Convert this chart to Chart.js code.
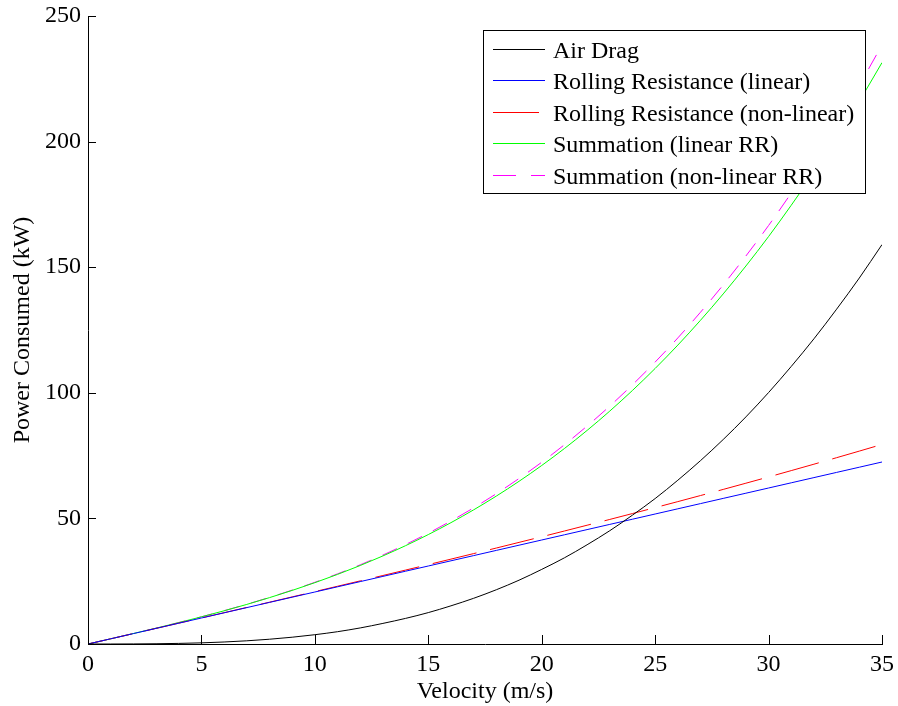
<!DOCTYPE html>
<html>
<head>
<meta charset="utf-8">
<script src="https://cdn.jsdelivr.net/npm/chart.js@4.4.1/dist/chart.umd.min.js"></script>
<style>
  html, body { margin: 0; padding: 0; background: #fff; }
  #wrap { width: 898px; height: 706px; position: relative; }
</style>
</head>
<body>
<div id="wrap"><canvas id="c" width="898" height="706"></canvas></div>
<script>
// Velocity (m/s)
const velocity = [0,1,2,3,4,5,6,7,8,9,10,11,12,13,14,15,16,17,18,19,20,21,22,23,24,25,26,27,28,29,30,31,32,33,34,35];
// Power consumed (kW)
const airDrag = [0,0.0,0.03,0.1,0.24,0.46,0.8,1.27,1.9,2.7,3.7,4.9,6.4,8.2,10.2,12.5,15.2,18.2,21.6,25.4,29.7,34.3,39.5,45.1,51.3,57.9,65.2,73.0,81.4,90.4,100.1,110.5,121.5,133.3,145.7,159.0];
const rrLinear = [0,2.07,4.14,6.21,8.28,10.35,12.42,14.49,16.56,18.63,20.7,22.77,24.84,26.91,28.98,31.05,33.12,35.19,37.26,39.33,41.4,43.47,45.54,47.61,49.68,51.75,53.82,55.89,57.96,60.03,62.1,64.17,66.24,68.31,70.38,72.45];
const rrNonLinear = [0,2.07,4.14,6.21,8.29,10.37,12.46,14.55,16.64,18.75,20.86,22.99,25.12,27.27,29.43,31.6,33.79,35.99,38.21,40.45,42.7,44.98,47.28,49.59,51.93,54.3,56.68,59.1,61.54,64.01,66.5,69.03,71.58,74.17,76.79,79.44];
const sumLinear = [0,2.07,4.17,6.31,8.52,10.81,13.22,15.76,18.46,21.33,24.41,27.71,31.25,35.06,39.15,43.56,48.31,53.41,58.89,64.76,71.06,77.81,85.02,92.72,100.94,109.69,118.99,128.87,139.36,150.47,162.2,174.67,187.74,201.61,216.08,231.45];
const sumNonLinear = [0,2.07,4.17,6.31,8.53,10.83,13.26,15.82,18.54,21.45,24.57,27.93,31.53,35.42,39.6,44.11,48.98,54.21,59.84,65.88,72.36,79.32,86.76,94.7,103.19,112.24,121.85,132.08,142.94,154.45,166.6,179.53,193.08,207.47,222.49,238.44];
const seriesNames = ['Air Drag','Rolling Resistance (linear)','Rolling Resistance (non-linear)','Summation (linear RR)','Summation (non-linear RR)'];
const xTicks = [0,5,10,15,20,25,30,35];
const yTicks = [0,50,100,150,200,250];

const FONT = 'Liberation Serif, "Times New Roman", serif';
const pts = arr => velocity.map((v, i) => ({x: v, y: arr[i]}));

const styles = [
  {color: '#000000', dash: []},
  {color: '#0000ff', dash: []},
  {color: '#ff0000', dash: [45, 14]},
  {color: '#00ff00', dash: []},
  {color: '#ff00ff', dash: [16, 12]}
];
const values = [airDrag, rrLinear, rrNonLinear, sumLinear, sumNonLinear];

const datasets = values.map((arr, i) => ({
  label: seriesNames[i],
  data: pts(arr),
  borderColor: styles[i].color,
  backgroundColor: styles[i].color,
  borderWidth: 1,
  borderDash: styles[i].dash,
  pointRadius: 0,
  fill: false,
  cubicInterpolationMode: 'monotone'
}));

const innerTicks = {
  id: 'innerTicks',
  afterDraw(chart) {
    const ctx = chart.ctx;
    const xs = chart.scales.x, ys = chart.scales.y;
    const ca = chart.chartArea;
    ctx.save();
    ctx.strokeStyle = '#000';
    ctx.lineWidth = 1;
    ctx.beginPath();
    xTicks.forEach(t => {
      const px = Math.round(xs.getPixelForValue(t)) + 0.5;
      ctx.moveTo(px, ca.bottom);
      ctx.lineTo(px, ca.bottom - 9);
    });
    yTicks.forEach(t => {
      const py = Math.round(ys.getPixelForValue(t)) + 0.5;
      ctx.moveTo(ca.left, py);
      ctx.lineTo(ca.left + 8, py);
    });
    ctx.stroke();

    // legend box
    const bx = 483.5, by = 30.5, bw = 382, bh = 163;
    ctx.fillStyle = '#fff';
    ctx.fillRect(bx, by, bw, bh);
    ctx.strokeStyle = '#000';
    ctx.strokeRect(bx, by, bw, bh);
    ctx.font = '24px ' + FONT;
    ctx.textBaseline = 'alphabetic';
    ctx.textAlign = 'left';
    const rows = [48.5, 80, 111.5, 143, 174.5];
    chart.data.datasets.forEach((ds, i) => {
      const y = rows[i];
      ctx.strokeStyle = ds.borderColor;
      ctx.setLineDash(i === 4 ? [23, 15] : []);
      ctx.beginPath();
      const x2 = i === 2 ? 539 : 545;
      ctx.moveTo(493, Math.round(y) + 0.5);
      ctx.lineTo(i === 4 ? 545 : x2, Math.round(y) + 0.5);
      ctx.stroke();
      ctx.setLineDash([]);
      ctx.fillStyle = '#000';
      ctx.fillText(ds.label, 553, y + 9);
    });
    ctx.restore();
  }
};

new Chart(document.getElementById('c'), {
  type: 'line',
  data: {datasets},
  options: {
    responsive: false,
    animation: false,
    layout: {padding: {top: 16, right: 16, left: 0, bottom: 0}},
    plugins: {legend: {display: false}, tooltip: {enabled: false}},
    scales: {
      x: {
        type: 'linear',
        min: 0, max: 35,
        afterBuildTicks: s => { s.ticks = xTicks.map(v => ({value: v})); },
        afterFit: s => { s.height = 62; s.paddingLeft = 0; s.paddingRight = 0; },
        grid: {display: false, drawTicks: false},
        border: {display: true, color: '#000', width: 1},
        ticks: {color: '#000', font: {family: FONT, size: 24}, padding: 6, maxRotation: 0},
        title: {display: true, text: 'Velocity (m/s)', color: '#000', font: {family: FONT, size: 24}, padding: {top: 0, bottom: 0}}
      },
      y: {
        type: 'linear',
        min: 0, max: 250,
        afterBuildTicks: s => { s.ticks = yTicks.map(v => ({value: v})); },
        afterFit: s => { s.width = 88; s.paddingTop = 0; s.paddingBottom = 0; },
        grid: {display: false, drawTicks: false},
        border: {display: true, color: '#000', width: 1},
        ticks: {color: '#000', font: {family: FONT, size: 24}, padding: 7},
        title: {display: true, text: 'Power Consumed (kW)', color: '#000', font: {family: FONT, size: 24}, padding: {top: 8, bottom: 8}}
      }
    }
  },
  plugins: [innerTicks]
});
</script>
</body>
</html>
